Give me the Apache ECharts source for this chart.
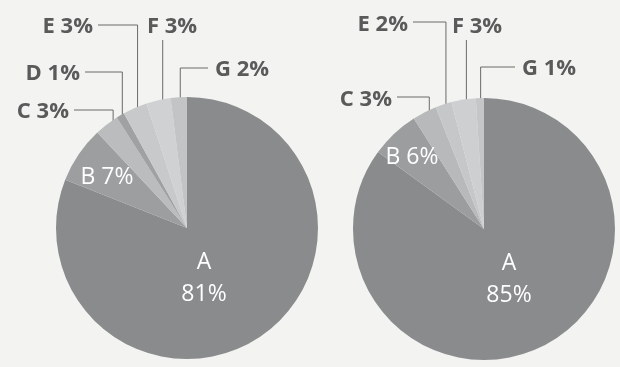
<!DOCTYPE html>
<html><head><meta charset="utf-8">
<script src="https://cdn.jsdelivr.net/npm/echarts@6/dist/echarts.min.js"></script>
<style>html,body{margin:0;padding:0;background:#f3f3f1;} #c{width:620px;height:367px;}</style>
</head><body><div id="c"></div>
<script>
// ---- data ----
const categoriesLeft = ['A', 'B', 'C', 'D', 'E', 'F', 'G'];
const valuesLeft = [81, 7, 3, 1, 3, 3, 2];
const categoriesRight = ['A', 'B', 'C', 'E', 'F', 'G'];
const valuesRight = [85, 6, 3, 2, 3, 1];

// ---- styles / layout ----
const colorsLeft = ['#898b8d', '#9c9ea0', '#babcbe', '#9fa1a3', '#c7c9cb', '#cfd1d3', '#c2c4c6'];
const colorsRight = ['#898b8d', '#9b9d9f', '#b7b9bb', '#c5c7c9', '#cdcfd1', '#c4c6c8'];
const R = 131;
const centerLeft = [187, 228];
const centerRight = [484, 229];
const TEXT_DARK = '#5a5a5a';
const LINE_COLOR = '#6a6a6a';
const FONT = '"Open Sans", "Noto Sans", sans-serif';

// label placement: inside labels (x,y centre) / outside labels (anchor, horizontal leader y, start depth f)
const layoutLeft = [
  { x: 204, y: 278, align: 'center', inside: true },
  { x: 107, y: 177, align: 'center', inside: true },
  { x: 69, y: 112, align: 'right', lineY: 110, f: 0.92 },
  { x: 80, y: 74, align: 'right', lineY: 72, f: 0.97 },
  { x: 93, y: 27, align: 'right', lineY: 25, f: 0.95 },
  { x: 147, y: 27, align: 'left', topY: 40, f: 0.85 },
  { x: 215, y: 70, align: 'left', lineY: 68, f: 0.82 }
];
const layoutRight = [
  { x: 509, y: 279, align: 'center', inside: true },
  { x: 412, y: 157, align: 'center', inside: true },
  { x: 392, y: 100, align: 'right', lineY: 97, f: 0.92 },
  { x: 408, y: 25, align: 'right', lineY: 22, f: 0.94 },
  { x: 452, y: 27, align: 'left', topY: 40, f: 0.86 },
  { x: 522, y: 69, align: 'left', lineY: 67, f: 0.82 }
];

function midAngle(values, i) {
  const total = values.reduce((a, b) => a + b, 0);
  let cum = 0;
  for (let k = 0; k < i; k++) cum += values[k];
  return 2 * Math.PI * (cum + values[i] / 2) / total;
}

function makeLayout(values, center, cfg) {
  return function (p) {
    const c = cfg[p.dataIndex];
    if (c.inside) {
      return { x: c.x, y: c.y, align: c.align, verticalAlign: 'middle' };
    }
    const th = midAngle(values, p.dataIndex);
    const rr = c.f * R;
    const sx = center[0] + rr * Math.sin(th);
    const sy = center[1] - rr * Math.cos(th);
    let pts;
    if (c.topY != null) {
      pts = [[sx, sy], [sx, c.topY]];
    } else {
      const ex = c.align === 'right' ? c.x + 5 : c.x - 7;
      pts = [[sx, sy], [sx, c.lineY], [ex, c.lineY]];
    }
    return { x: c.x, y: c.y, align: c.align, verticalAlign: 'middle', labelLinePoints: pts };
  };
}

function buildData(cats, vals, colors, cfg) {
  return cats.map((name, i) => {
    const item = { name: name, value: vals[i], itemStyle: { color: colors[i] } };
    if (cfg[i].inside) {
      item.label = {
        color: '#ffffff',
        fontWeight: 'normal',
        fontSize: 23,
        formatter: i === 0 ? '{b}\n{c}%' : '{b} {c}%',
        lineHeight: 32
      };
      item.labelLine = { show: false };
    }
    return item;
  });
}

function makeSeries(cats, vals, colors, center, cfg) {
  return {
    type: 'pie',
    center: center,
    radius: R,
    startAngle: 90,
    clockwise: true,
    avoidLabelOverlap: false,
    silent: true,
    animation: false,
    itemStyle: { borderWidth: 0 },
    label: {
      show: true,
      position: 'outside',
      formatter: '{b} {c}%',
      fontFamily: FONT,
      fontSize: 22,
      fontWeight: 'bold',
      color: TEXT_DARK
    },
    labelLine: { show: true, lineStyle: { color: LINE_COLOR, width: 1 } },
    labelLayout: makeLayout(vals, center, cfg),
    data: buildData(cats, vals, colors, cfg)
  };
}

const chart = echarts.init(document.getElementById('c'), null, { renderer: 'canvas' });
chart.setOption({
  backgroundColor: '#f3f3f1',
  animation: false,
  series: [
    makeSeries(categoriesLeft, valuesLeft, colorsLeft, centerLeft, layoutLeft),
    makeSeries(categoriesRight, valuesRight, colorsRight, centerRight, layoutRight)
  ]
});
</script>
</body></html>
